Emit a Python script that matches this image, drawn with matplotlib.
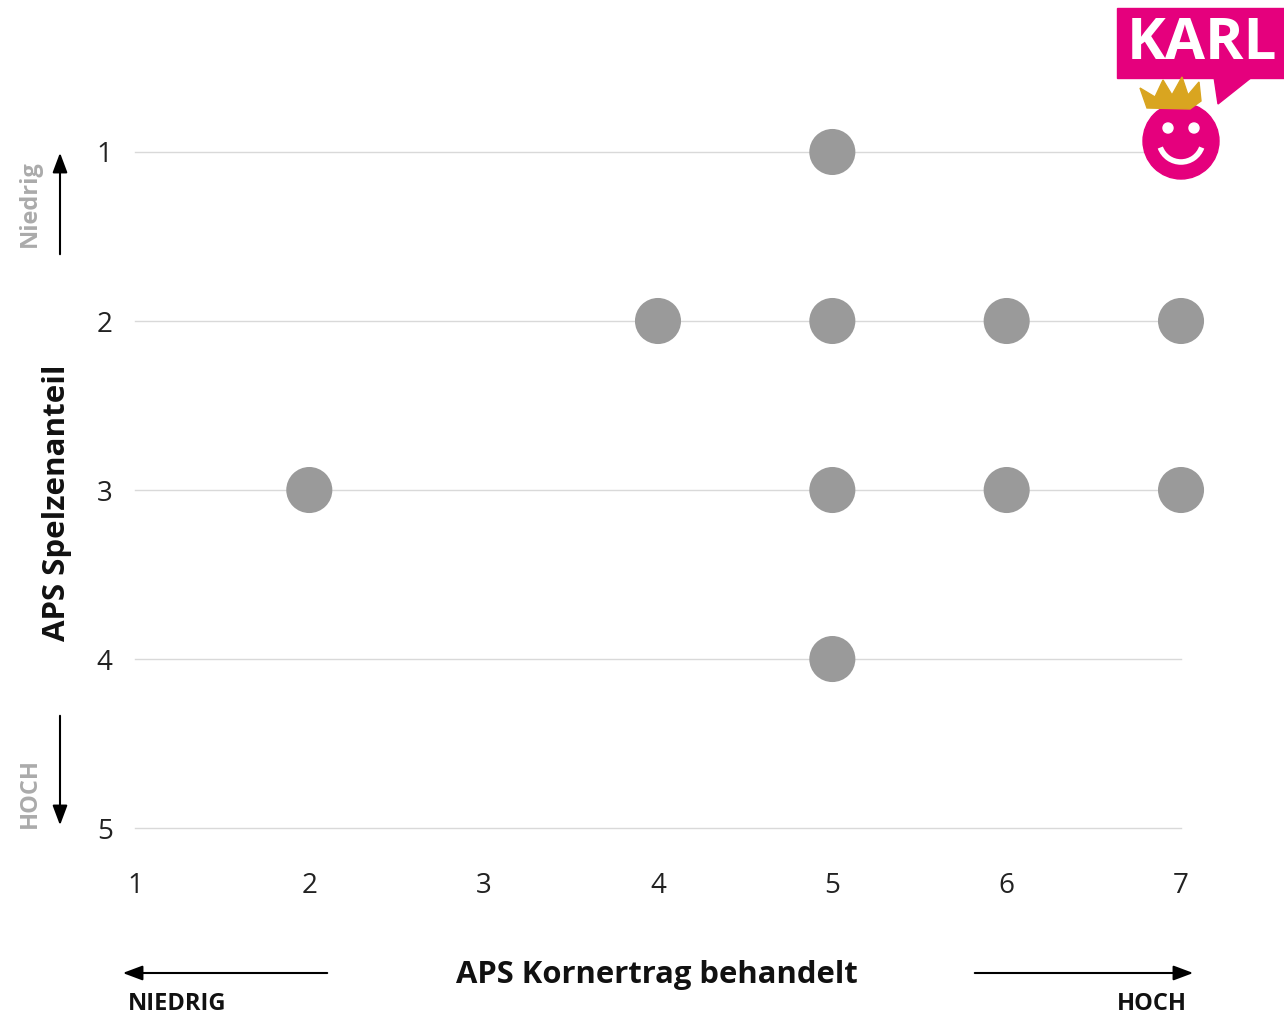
import matplotlib.pyplot as plt
from matplotlib.patches import Polygon, Circle, Rectangle, Arc

plt.rcParams['font.family'] = ['Open Sans', 'DejaVu Sans']

# Data
ertrag = [5, 4, 5, 6, 7, 2, 5, 6, 7, 5]
spelzen = [1, 2, 2, 2, 2, 3, 3, 3, 3, 4]
xticks = [1, 2, 3, 4, 5, 6, 7]
yticks = [1, 2, 3, 4, 5]

fig = plt.figure(figsize=(12.84, 10.18), dpi=100)
ax = fig.add_axes([0.1051, 0.1866, 0.8147, 0.6641])

for y in yticks:
    ax.axhline(y, color='#d9d9d9', lw=1, zorder=1, clip_on=False)

ax.scatter(ertrag, spelzen, s=1100, color='#9a9a9a', edgecolors='none', zorder=3, clip_on=False)

ax.set_xlim(1, 7)
ax.set_ylim(5, 1)
ax.set_xticks(xticks)
ax.set_yticks(yticks)
ax.tick_params(length=0, labelsize=20, colors='#222222')
ax.tick_params(axis='x', pad=32)
ax.tick_params(axis='y', pad=16)
for s in ax.spines.values():
    s.set_visible(False)

# Overlay in pixel coordinates for arrows, labels and logo
ov = fig.add_axes([0, 0, 1, 1], facecolor='none')
ov.set_xlim(0, 1284)
ov.set_ylim(1018, 0)
ov.axis('off')

arr = dict(arrowstyle='-|>,head_length=1.2,head_width=0.45', color='black', lw=1.5)
ov.annotate('', xy=(60, 150), xytext=(60, 257), arrowprops=arr)
ov.annotate('', xy=(60, 828), xytext=(60, 713), arrowprops=arr)
ov.annotate('', xy=(120, 973), xytext=(330, 973), arrowprops=arr)
ov.annotate('', xy=(1196, 973), xytext=(972, 973), arrowprops=arr)

ov.text(30, 204, 'Niedrig', rotation=90, ha='center', va='center', fontsize=17,
        fontweight='bold', color='#ababab')
ov.text(30, 793, 'HOCH', rotation=90, ha='center', va='center', fontsize=17,
        fontweight='bold', color='#ababab')
ov.text(128, 1004, 'NIEDRIG', ha='left', va='center', fontsize=17, fontweight='bold', color='#111111')
ov.text(1187, 1004, 'HOCH', ha='right', va='center', fontsize=17, fontweight='bold', color='#111111')

ov.text(657, 975, 'APS Kornertrag behandelt', ha='center', va='center', fontsize=22.3,
        fontweight='bold', color='#111111')
ov.text(57, 503, 'APS Spelzenanteil', rotation=90, ha='center', va='center', fontsize=22.5,
        fontweight='bold', color='#111111')

# KARL logo
pink = '#e5007d'
ov.add_patch(Rectangle((1117, 8), 167, 70, color=pink, zorder=5))
ov.add_patch(Polygon([[1214, 77], [1252, 77], [1218, 104]], color=pink, zorder=5))
ov.text(1202, 44, 'KARL', ha='center', va='center', fontsize=42, fontweight='bold',
        color='white', zorder=6)
ov.add_patch(Circle((1181, 141), 38, color=pink, zorder=5))
ov.add_patch(Circle((1168, 128), 5, color='white', zorder=6))
ov.add_patch(Circle((1194, 128), 5, color='white', zorder=6))
ov.add_patch(Arc((1181, 140), 44, 44, theta1=20, theta2=160, color='white', lw=4, zorder=6))
ov.add_patch(Polygon([[1147, 108], [1140, 88], [1155, 97], [1163, 80], [1172, 95],
                      [1182, 77], [1188, 95], [1199, 82], [1201, 101], [1190, 109]],
                     color='#d9a520', zorder=6))

fig.savefig('out.png', dpi=100)
